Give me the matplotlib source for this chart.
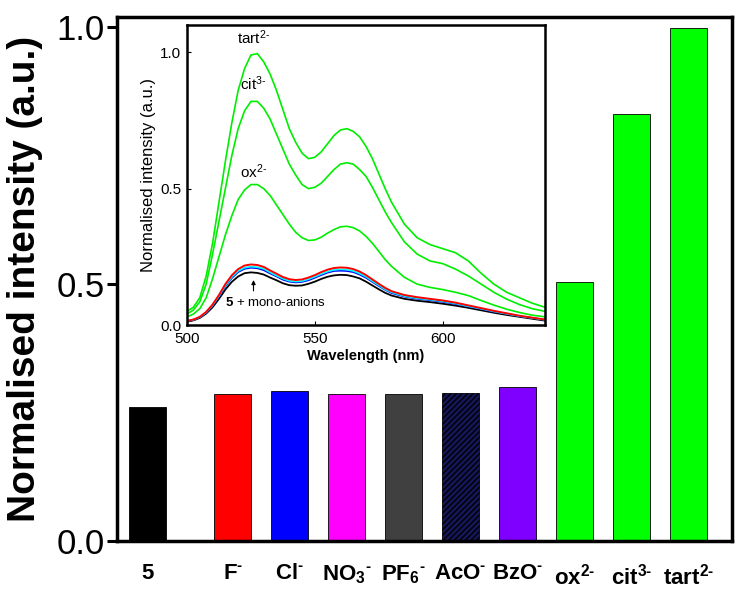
import numpy as np
import matplotlib
matplotlib.use('Agg')
import matplotlib.pyplot as plt

plt.rcParams['font.family'] = ['Liberation Sans', 'DejaVu Sans']
plt.rcParams['mathtext.fontset'] = 'custom'
plt.rcParams['mathtext.rm'] = 'Liberation Sans'
plt.rcParams['mathtext.bf'] = 'Liberation Sans:bold'
plt.rcParams['mathtext.it'] = 'Liberation Sans:italic'
plt.rcParams['hatch.color'] = '#3a3a8a'

HY = '\u2010'  # short hyphen for charges

# bar data (main plot)
labels = ['5', 'F$^\\mathbf{%s}$' % HY, 'Cl$^\\mathbf{%s}$' % HY,
          'NO$_\\mathbf{3}$$^\\mathbf{%s}$' % HY, 'PF$_\\mathbf{6}$$^\\mathbf{%s}$' % HY,
          'AcO$^\\mathbf{%s}$' % HY, 'BzO$^\\mathbf{%s}$' % HY,
          'ox$^\\mathbf{2%s}$' % HY, 'cit$^\\mathbf{3%s}$' % HY, 'tart$^\\mathbf{2%s}$' % HY]
positions = [0, 1.5, 2.5, 3.5, 4.5, 5.5, 6.5, 7.5, 8.5, 9.5]
intensity = [0.261, 0.287, 0.292, 0.287, 0.287, 0.289, 0.300, 0.505, 0.832, 0.998]
colors = ['#000000', '#ff0000', '#0000ff', '#ff00ff', '#404040', '#16165a',
          '#8000ff', '#00ff00', '#00ff00', '#00ff00']

# spectra data (inset)
wl = [500, 502.5, 505, 507.5, 510, 512.5, 515, 517.5, 520, 522.5, 525, 527.5, 530,
      532.5, 535, 537.5, 540, 542.5, 545, 547.5, 550, 552.5, 555, 557.5, 560, 562.5,
      565, 567.5, 570, 572.5, 575, 577.5, 580, 585, 590, 595, 600, 605, 610, 615,
      620, 625, 630, 635, 640]
tart = [0.05, 0.065, 0.10, 0.18, 0.30, 0.45, 0.60, 0.74, 0.86, 0.94, 0.99,
        0.995, 0.965, 0.92, 0.86, 0.79, 0.72, 0.67, 0.63, 0.61, 0.615,
        0.635, 0.665, 0.695, 0.715, 0.72, 0.71, 0.69, 0.655, 0.61, 0.555,
        0.50, 0.45, 0.37, 0.32, 0.295, 0.28, 0.265, 0.235, 0.19, 0.15, 0.12, 0.10, 0.08, 0.065]
cit = [0.04, 0.055, 0.085, 0.15, 0.26, 0.38, 0.50, 0.62, 0.72, 0.785, 0.82,
       0.82, 0.795, 0.755, 0.70, 0.645, 0.59, 0.55, 0.515, 0.50, 0.505,
       0.52, 0.545, 0.57, 0.59, 0.595, 0.59, 0.57, 0.545, 0.505, 0.46,
       0.415, 0.375, 0.305, 0.26, 0.235, 0.225, 0.205, 0.18, 0.15, 0.12, 0.095, 0.075, 0.06, 0.05]
ox = [0.03, 0.04, 0.06, 0.10, 0.17, 0.25, 0.33, 0.40, 0.46, 0.495, 0.515,
      0.515, 0.50, 0.475, 0.44, 0.405, 0.37, 0.34, 0.32, 0.31, 0.312,
      0.322, 0.337, 0.35, 0.36, 0.362, 0.357, 0.345, 0.325, 0.30, 0.27,
      0.24, 0.215, 0.175, 0.15, 0.138, 0.13, 0.12, 0.108, 0.09, 0.073, 0.058, 0.046, 0.036, 0.03]
red = [0.015, 0.02, 0.03, 0.048, 0.075, 0.11, 0.15, 0.182, 0.205, 0.218, 0.222,
       0.22, 0.213, 0.2, 0.188, 0.176, 0.168, 0.165, 0.167, 0.174, 0.183,
       0.194, 0.203, 0.209, 0.211, 0.21, 0.205, 0.196, 0.183, 0.167, 0.151,
       0.136, 0.124, 0.11, 0.102, 0.096, 0.09, 0.082, 0.072, 0.062, 0.052, 0.043, 0.034, 0.027, 0.02]
cyan = [0.015, 0.019, 0.029, 0.046, 0.072, 0.106, 0.145, 0.176, 0.198, 0.21, 0.214,
        0.212, 0.206, 0.193, 0.181, 0.17, 0.162, 0.159, 0.161, 0.168, 0.177,
        0.187, 0.196, 0.202, 0.204, 0.203, 0.198, 0.189, 0.177, 0.161, 0.146,
        0.131, 0.12, 0.106, 0.098, 0.093, 0.087, 0.079, 0.069, 0.06, 0.05, 0.041, 0.033, 0.026, 0.019]
blue = [0.014, 0.019, 0.028, 0.045, 0.071, 0.104, 0.142, 0.172, 0.194, 0.206, 0.21,
        0.208, 0.201, 0.189, 0.178, 0.166, 0.159, 0.156, 0.158, 0.164, 0.173,
        0.183, 0.192, 0.198, 0.199, 0.198, 0.194, 0.185, 0.173, 0.158, 0.143,
        0.129, 0.117, 0.104, 0.096, 0.091, 0.085, 0.077, 0.068, 0.059, 0.049, 0.041, 0.032, 0.026, 0.019]
black = [0.012, 0.017, 0.026, 0.042, 0.065, 0.096, 0.13, 0.158, 0.178, 0.19, 0.193,
         0.191, 0.185, 0.174, 0.164, 0.153, 0.146, 0.144, 0.145, 0.151, 0.159,
         0.169, 0.177, 0.182, 0.184, 0.183, 0.178, 0.171, 0.159, 0.145, 0.131,
         0.118, 0.108, 0.096, 0.089, 0.084, 0.078, 0.071, 0.063, 0.054, 0.045, 0.037, 0.03, 0.023, 0.016]

fig = plt.figure(figsize=(7.43, 5.97), dpi=100)
ax = fig.add_axes([0.1575, 0.0938, 0.8275, 0.8777])

ax.bar(positions, intensity, width=0.65, color=colors, edgecolor='black', linewidth=0.6)
ax.patches[5].set_hatch('//////')
ax.set_xlim(-0.53, 10.26)
ax.set_ylim(0, 1.02)
ax.set_yticks([0.0, 0.5, 1.0])
ax.set_yticklabels(['0.0', '0.5', '1.0'], fontsize=25)
ax.set_xticks(positions)
ax.set_xticklabels(labels, fontsize=16, fontweight='bold')
ax.tick_params(axis='x', length=0, pad=16)
ax.tick_params(axis='y', direction='out', length=7, width=2.2, pad=2)
for s in ax.spines.values():
    s.set_linewidth(2.5)
ax.set_ylabel('Normalised intensity (a.u.)', fontsize=28, fontweight='bold', labelpad=0)
ax.yaxis.set_label_coords(-0.12, 0.5)

# inset with spectra
ins = fig.add_axes([0.2517, 0.4556, 0.4818, 0.5025])
for y in [tart, cit, ox]:
    ins.plot(wl, y, color='#00ee00', lw=1.2)
ins.plot(wl, black, color='black', lw=1.3)
ins.plot(wl, blue, color='blue', lw=1.2)
ins.plot(wl, cyan, color='cyan', lw=1.2)
ins.plot(wl, red, color='red', lw=1.4)
ins.set_xlim(500, 640)
ins.set_ylim(0, 1.1)
ins.set_xticks([500, 550, 600])
ins.set_yticks([0.0, 0.5, 1.0])
ins.tick_params(direction='in', labelsize=11, length=3)
ins.tick_params(axis='x', pad=5)
ins.tick_params(axis='y', pad=4)
ins.set_xlabel('Wavelength (nm)', fontsize=10.5, fontweight='bold', labelpad=2)
ins.set_ylabel('Normalised intensity (a.u.)', fontsize=12, labelpad=3)
for s in ins.spines.values():
    s.set_linewidth(1.8)
ins.text(526, 1.03, 'tart$^{2%s}$' % HY, ha='center', fontsize=11)
ins.text(526, 0.86, 'cit$^{3%s}$' % HY, ha='center', fontsize=11)
ins.text(526, 0.54, 'ox$^{2%s}$' % HY, ha='center', fontsize=11)
ins.annotate('', xy=(526, 0.175), xytext=(526, 0.115),
             arrowprops=dict(arrowstyle='-|>', color='black', lw=0.8, mutation_scale=6))
ins.text(515, 0.07, '$\\mathbf{5}$ + mono-anions', fontsize=9.5)

fig.savefig('out.png', dpi=100)
